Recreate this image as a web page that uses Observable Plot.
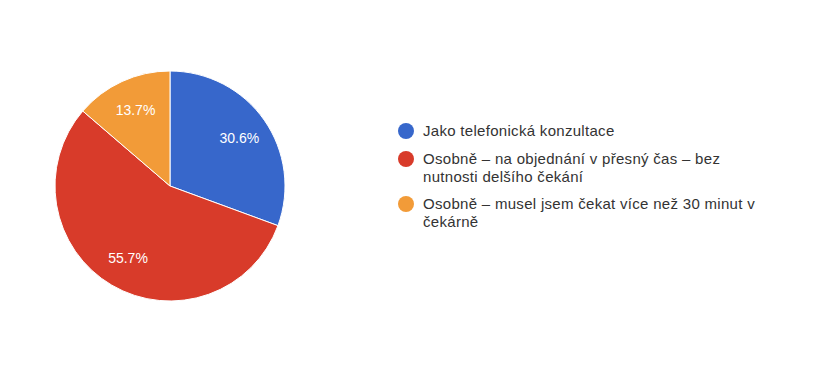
<!DOCTYPE html>
<html><head><meta charset="utf-8">
<script src="https://cdn.jsdelivr.net/npm/d3@7"></script>
<script src="https://cdn.jsdelivr.net/npm/@observablehq/plot@0.6"></script>
<style>
html,body{margin:0;padding:0;background:#fff;}
#wrap{position:relative;width:825px;height:368px;}
#legend{position:absolute;left:398px;top:122px;font-family:"Liberation Sans",Arial,sans-serif;font-size:15px;letter-spacing:0.3px;color:#333;}
.item{display:flex;align-items:flex-start;margin-bottom:9.5px;}
.sw{width:16px;height:16px;border-radius:50%;flex:none;margin-top:1px;margin-right:9px;}
.lbl{line-height:18px;white-space:nowrap;}
</style></head>
<body><div id="wrap"><div id="legend"></div></div>
<script>
const categories = [
  "Jako telefonická konzultace",
  "Osobně – na objednání v přesný čas – bez nutnosti delšího čekání",
  "Osobně – musel jsem čekat více než 30 minut v čekárně"
];
const legendLines = [
  ["Jako telefonická konzultace"],
  ["Osobně – na objednání v přesný čas – bez", "nutnosti delšího čekání"],
  ["Osobně – musel jsem čekat více než 30 minut v", "čekárně"]
];
const shares = [30.6, 55.7, 13.7];
const colors = ["#3767cb", "#d83b2a", "#f29b38"];

const pie = d3.pie().sort(null).value(d => d.share)(categories.map((c, i) => ({category: c, share: shares[i]})));
const slices = pie.map(p => ({category: p.data.category, share: p.data.share, start: p.startAngle, end: p.endAngle, mid: (p.startAngle + p.endAngle) / 2}));
const labelR = 0.73;

const chart = Plot.plot({
  width: 825, height: 368,
  marginLeft: 55, marginRight: 540, marginTop: 71, marginBottom: 67,
  x: {domain: [-1, 1], axis: null},
  y: {domain: [-1, 1], axis: null},
  color: {domain: categories, range: colors},
  marks: [
    Plot.dot(slices, {
      x: () => 0, y: () => 0, fill: "category",
      render(index, scales, values) {
        const cx = scales.x(0), cy = scales.y(0), r = scales.x(1) - scales.x(0);
        const arc = d3.arc().innerRadius(0).outerRadius(r);
        const g = d3.create("svg:g").attr("transform", `translate(${cx},${cy})`);
        for (const i of index) {
          g.append("path")
            .attr("d", arc({startAngle: slices[i].start, endAngle: slices[i].end}))
            .attr("fill", values.fill[i])
            .attr("stroke", "#fff").attr("stroke-width", 1);
        }
        return g.node();
      }
    }),
    Plot.text(slices, {
      x: d => labelR * Math.sin(d.mid),
      y: d => labelR * Math.cos(d.mid),
      text: d => d.share.toFixed(1) + "%",
      fill: "#fff", fontSize: 14, fontWeight: 500, fontFamily: "Liberation Sans, Arial, sans-serif"
    })
  ]
});
document.getElementById("wrap").prepend(chart);
const colorScale = chart.scale("color");
const legend = document.getElementById("legend");
categories.forEach((c, i) => {
  const it = document.createElement("div"); it.className = "item";
  const sw = document.createElement("div"); sw.className = "sw"; sw.style.background = colorScale.range[i];
  const lb = document.createElement("div"); lb.className = "lbl";
  legendLines[i].forEach(line => { const d = document.createElement("div"); d.textContent = line; lb.append(d); });
  it.append(sw, lb); legend.append(it);
});
</script></body></html>
